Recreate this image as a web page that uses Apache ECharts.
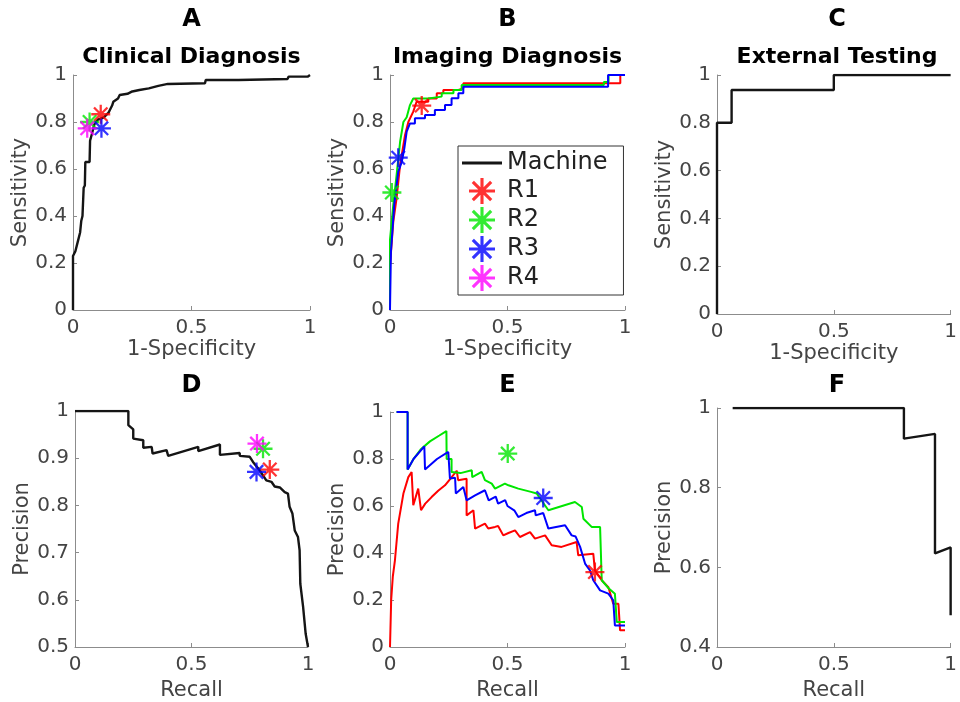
<!DOCTYPE html>
<html>
<head>
<meta charset="utf-8">
<script src="https://cdn.jsdelivr.net/npm/echarts@6/dist/echarts.min.js"></script>
<style>
html,body{margin:0;padding:0;background:#fff;}
#chart{width:960px;height:702px;}
</style>
</head>
<body>
<div id="chart"></div>
<script>
// ---------------- DATA ----------------
const panelLetters = ['A','B','C','D','E','F'];
const panelSubtitles = ['Clinical Diagnosis','Imaging Diagnosis','External Testing'];
const readerNames = ['R1','R2','R3','R4'];
const xTickValues = [0, 0.5, 1];

// Panel A: ROC, clinical diagnosis (machine)
const rocA = [[0,0],[0,0.23],[0.01,0.25],[0.02,0.29],[0.03,0.33],[0.035,0.38],[0.04,0.40],[0.045,0.52],[0.05,0.53],[0.052,0.63],[0.07,0.63],[0.072,0.72],[0.08,0.75],[0.085,0.77],[0.09,0.79],[0.105,0.81],[0.13,0.82],[0.15,0.84],[0.155,0.85],[0.165,0.87],[0.17,0.886],[0.19,0.90],[0.197,0.915],[0.23,0.92],[0.25,0.93],[0.28,0.936],[0.32,0.943],[0.36,0.954],[0.40,0.962],[0.557,0.965],[0.56,0.979],[0.698,0.979],[0.70,0.983],[0.905,0.983],[0.91,0.993],[0.99,0.993],[1,1]];
const readersA = [[0.117,0.833],[0.07,0.80],[0.12,0.773],[0.06,0.773]];

// Panel B: ROC, imaging diagnosis (machine vs each reader's labels)
const rocB_R1 = [[0,0],[0,0.19],[0.014,0.376],[0.028,0.475],[0.043,0.617],[0.064,0.745],[0.078,0.80],[0.099,0.844],[0.113,0.886],[0.163,0.886],[0.163,0.90],[0.199,0.90],[0.199,0.922],[0.227,0.922],[0.227,0.936],[0.291,0.936],[0.291,0.943],[0.312,0.943],[0.312,0.965],[0.98,0.965],[0.98,1],[1,1]];
const rocB_R2 = [[0,0],[0,0.3],[0.014,0.447],[0.028,0.574],[0.043,0.716],[0.057,0.80],[0.071,0.82],[0.085,0.872],[0.099,0.90],[0.163,0.90],[0.163,0.908],[0.22,0.908],[0.22,0.922],[0.27,0.922],[0.27,0.936],[0.305,0.936],[0.305,0.957],[0.91,0.957],[0.91,0.97],[0.93,0.97],[0.93,1],[1,1]];
const rocB_R3 = [[0,0],[0.004,0.248],[0.018,0.447],[0.035,0.588],[0.05,0.63],[0.061,0.688],[0.071,0.759],[0.085,0.794],[0.106,0.794],[0.106,0.816],[0.149,0.816],[0.149,0.83],[0.191,0.83],[0.191,0.851],[0.234,0.851],[0.234,0.872],[0.262,0.872],[0.262,0.901],[0.291,0.901],[0.291,0.922],[0.312,0.922],[0.312,0.95],[0.928,0.95],[0.928,1],[1,1]];
const readersB = [[0.135,0.87],[0.008,0.50],[0.035,0.648],null];

// Panel C: ROC, external testing
const rocC = [[0,0],[0,0.8],[0.0625,0.8],[0.0625,0.9375],[0.5,0.9375],[0.5,1],[1,1]];

// Panel D: precision-recall, clinical diagnosis
const prD = [[0,1],[0.229,1],[0.229,0.97],[0.25,0.961],[0.25,0.9415],[0.293,0.938],[0.293,0.922],[0.329,0.924],[0.333,0.91],[0.393,0.917],[0.40,0.905],[0.529,0.924],[0.529,0.915],[0.622,0.929],[0.622,0.907],[0.707,0.911],[0.707,0.905],[0.75,0.903],[0.764,0.892],[0.793,0.874],[0.821,0.853],[0.843,0.85],[0.857,0.84],[0.879,0.838],[0.90,0.828],[0.914,0.825],[0.921,0.797],[0.933,0.783],[0.943,0.747],[0.957,0.733],[0.964,0.705],[0.967,0.634],[0.979,0.585],[0.99,0.528],[1,0.5]];
const readersD = [[0.836,0.876],[0.807,0.92],[0.779,0.871],[0.781,0.931]];

// Panel E: precision-recall, imaging diagnosis
const prE_R1 = [[0,0],[0.005,0.2],[0.012,0.3],[0.021,0.369],[0.035,0.525],[0.057,0.653],[0.078,0.723],[0.092,0.745],[0.099,0.603],[0.12,0.674],[0.132,0.582],[0.15,0.61],[0.177,0.638],[0.205,0.665],[0.234,0.688],[0.26,0.72],[0.284,0.75],[0.29,0.71],[0.326,0.716],[0.326,0.56],[0.355,0.582],[0.362,0.504],[0.404,0.525],[0.418,0.504],[0.447,0.511],[0.46,0.515],[0.482,0.475],[0.504,0.485],[0.532,0.496],[0.553,0.468],[0.596,0.489],[0.617,0.461],[0.66,0.475],[0.688,0.433],[0.73,0.426],[0.794,0.447],[0.801,0.39],[0.865,0.397],[0.872,0.326],[0.901,0.284],[0.929,0.255],[0.95,0.184],[0.972,0.184],[0.979,0.071],[1,0.071]];
const prE_R2 = [[0.028,1],[0.075,1],[0.075,0.755],[0.1,0.8],[0.13,0.84],[0.17,0.875],[0.21,0.9],[0.24,0.919],[0.241,0.8],[0.262,0.8],[0.262,0.745],[0.3,0.74],[0.348,0.752],[0.35,0.723],[0.39,0.745],[0.404,0.71],[0.433,0.695],[0.447,0.674],[0.489,0.695],[0.504,0.688],[0.546,0.674],[0.6,0.66],[0.624,0.653],[0.674,0.582],[0.787,0.617],[0.816,0.596],[0.823,0.546],[0.858,0.511],[0.894,0.511],[0.901,0.284],[0.93,0.25],[0.957,0.227],[0.965,0.106],[1,0.106]];
const prE_R3 = [[0.028,1],[0.075,1],[0.075,0.755],[0.1,0.8],[0.146,0.854],[0.149,0.755],[0.2,0.8],[0.248,0.83],[0.255,0.717],[0.277,0.72],[0.28,0.653],[0.312,0.681],[0.326,0.624],[0.362,0.645],[0.404,0.667],[0.42,0.624],[0.45,0.64],[0.46,0.61],[0.49,0.625],[0.5,0.6],[0.53,0.58],[0.546,0.553],[0.58,0.57],[0.617,0.582],[0.62,0.56],[0.652,0.57],[0.674,0.504],[0.745,0.518],[0.773,0.475],[0.79,0.47],[0.809,0.426],[0.83,0.355],[0.851,0.326],[0.865,0.284],[0.894,0.241],[0.929,0.227],[0.95,0.199],[0.957,0.092],[1,0.092]];
const readersE = [[0.872,0.319],[0.501,0.823],[0.652,0.634],null];

// Panel F: precision-recall, external testing
const prF = [[0.067,1],[0.8,1],[0.8,0.923],[0.933,0.935],[0.933,0.635],[1,0.65],[1,0.48]];

// ---------------- STYLE ----------------
const FONT = 'DejaVu Sans';
const readerColors = ['#ff0000','#00e600','#0000ff','#ff00ff'];
const machineColor = '#151515';
const axisColor = '#8c8c8c';
const labelColor = '#444444';
const STAR = 'path://M0 8.8H20V11.2H0Z M8.8 0H11.2V20H8.8Z M2.08 3.78L3.78 2.08L17.92 16.22L16.22 17.92Z M16.22 2.08L17.92 3.78L3.78 17.92L2.08 16.22Z';

const grids = [
  {left:73, top:75, width:237, height:235},
  {left:390, top:75, width:235, height:235},
  {left:717, top:75, width:240, height:239},
  {left:75, top:411, width:233, height:236},
  {left:390, top:412, width:235, height:235},
  {left:717, top:408, width:240, height:239}
];
const yRanges = [[0,1,0.2],[0,1,0.2],[0,1,0.2],[0.5,1,0.1],[0,1,0.2],[0.4,1,0.2]];
const xNames = ['1-Specificity','1-Specificity','1-Specificity','Recall','Recall','Recall'];
const yNames = ['Sensitivity','Sensitivity','Sensitivity','Precision','Precision','Precision'];

const xAxes = grids.map((g,i)=>({
  gridIndex:i, type:'value', min:xTickValues[0], max:xTickValues[2], interval:xTickValues[1]-xTickValues[0],
  axisLine:{show:true,onZero:false,lineStyle:{color:axisColor,width:1}},
  axisTick:{show:true,inside:true,length:4,lineStyle:{color:axisColor}},
  axisLabel:{fontSize:20,color:labelColor,margin:8,fontFamily:FONT},
  splitLine:{show:false},
  name:xNames[i], nameLocation:'middle', nameGap: i<3 ? 29 : 33,
  nameTextStyle:{fontSize:21,color:labelColor,fontFamily:FONT}
}));
const yAxes = grids.map((g,i)=>({
  gridIndex:i, type:'value', min:yRanges[i][0], max:yRanges[i][1], interval:yRanges[i][2],
  axisLine:{show:true,onZero:false,lineStyle:{color:axisColor,width:1}},
  axisTick:{show:true,inside:true,length:4,lineStyle:{color:axisColor}},
  axisLabel:{fontSize:20,color:labelColor,margin:6,fontFamily:FONT},
  splitLine:{show:false},
  name:yNames[i], nameLocation:'middle', nameGap:39,
  nameTextStyle:{fontSize:21,color:labelColor,fontFamily:FONT}
}));

const series = [];
function lineSeries(name, idx, data, color, width){
  series.push({type:'line', name:name, xAxisIndex:idx, yAxisIndex:idx, data:data,
    showSymbol:false, symbol:'none', animation:false, silent:true,
    lineStyle:{color:color,width:width}, itemStyle:{color:color}});
}
function readerSeries(idx, pts){
  readerNames.forEach((n,k)=>{
    series.push({type:'scatter', name:n, xAxisIndex:idx, yAxisIndex:idx,
      data: pts[k] ? [pts[k]] : [], symbol:STAR, symbolSize:19, animation:false, silent:true,
      itemStyle:{color:readerColors[k]}, z:5});
  });
}
lineSeries('Machine',0,rocA,machineColor,2.4);
readerSeries(0,readersA);
lineSeries('Machine',1,[],machineColor,2.4);
lineSeries('Machine vs R1',1,rocB_R1,readerColors[0],2);
lineSeries('Machine vs R2',1,rocB_R2,readerColors[1],2);
lineSeries('Machine vs R3',1,rocB_R3,readerColors[2],2);
readerSeries(1,readersB);
lineSeries('Machine',2,rocC,machineColor,2.4);
lineSeries('Machine',3,prD,machineColor,2.4);
readerSeries(3,readersD);
lineSeries('Machine vs R1',4,prE_R1,readerColors[0],2);
lineSeries('Machine vs R2',4,prE_R2,readerColors[1],2);
lineSeries('Machine vs R3',4,prE_R3,readerColors[2],2);
readerSeries(4,readersE);
lineSeries('Machine',5,prF,machineColor,2.4);

const titles = [];
grids.forEach((g,i)=>{
  const cx = g.left + g.width/2;
  titles.push({text:panelLetters[i], left:cx, top: i<3 ? 8 : 374, textAlign:'center', padding:0,
    textStyle:{fontSize:24,fontWeight:'bold',color:'#000',fontFamily:FONT}});
  if(i<3){
    titles.push({text:panelSubtitles[i], left:cx, top:46, textAlign:'center', padding:0,
      textStyle:{fontSize:22,fontWeight:'bold',color:'#000',fontFamily:FONT}});
  }
});

const legendData = [{name:'Machine', icon:'path://M0 0H40V3H0Z'}].concat(readerNames.map(n=>({name:n, icon:STAR})));

const chart = echarts.init(document.getElementById('chart'), null, {renderer:'canvas'});
chart.setOption({
  backgroundColor:'#ffffff',
  animation:false,
  title:titles,
  grid:grids,
  xAxis:xAxes,
  yAxis:yAxes,
  legend:{
    orient:'vertical', left:458, top:146, data:legendData, selectedMode:false,
    backgroundColor:'#ffffff', borderColor:'#333333', borderWidth:1,
    padding:[5,16,4,4], itemGap:3, itemWidth:40, itemHeight:26,
    textStyle:{fontSize:24,color:'#222222',fontFamily:FONT}
  },
  series:series
});
</script>
</body>
</html>
